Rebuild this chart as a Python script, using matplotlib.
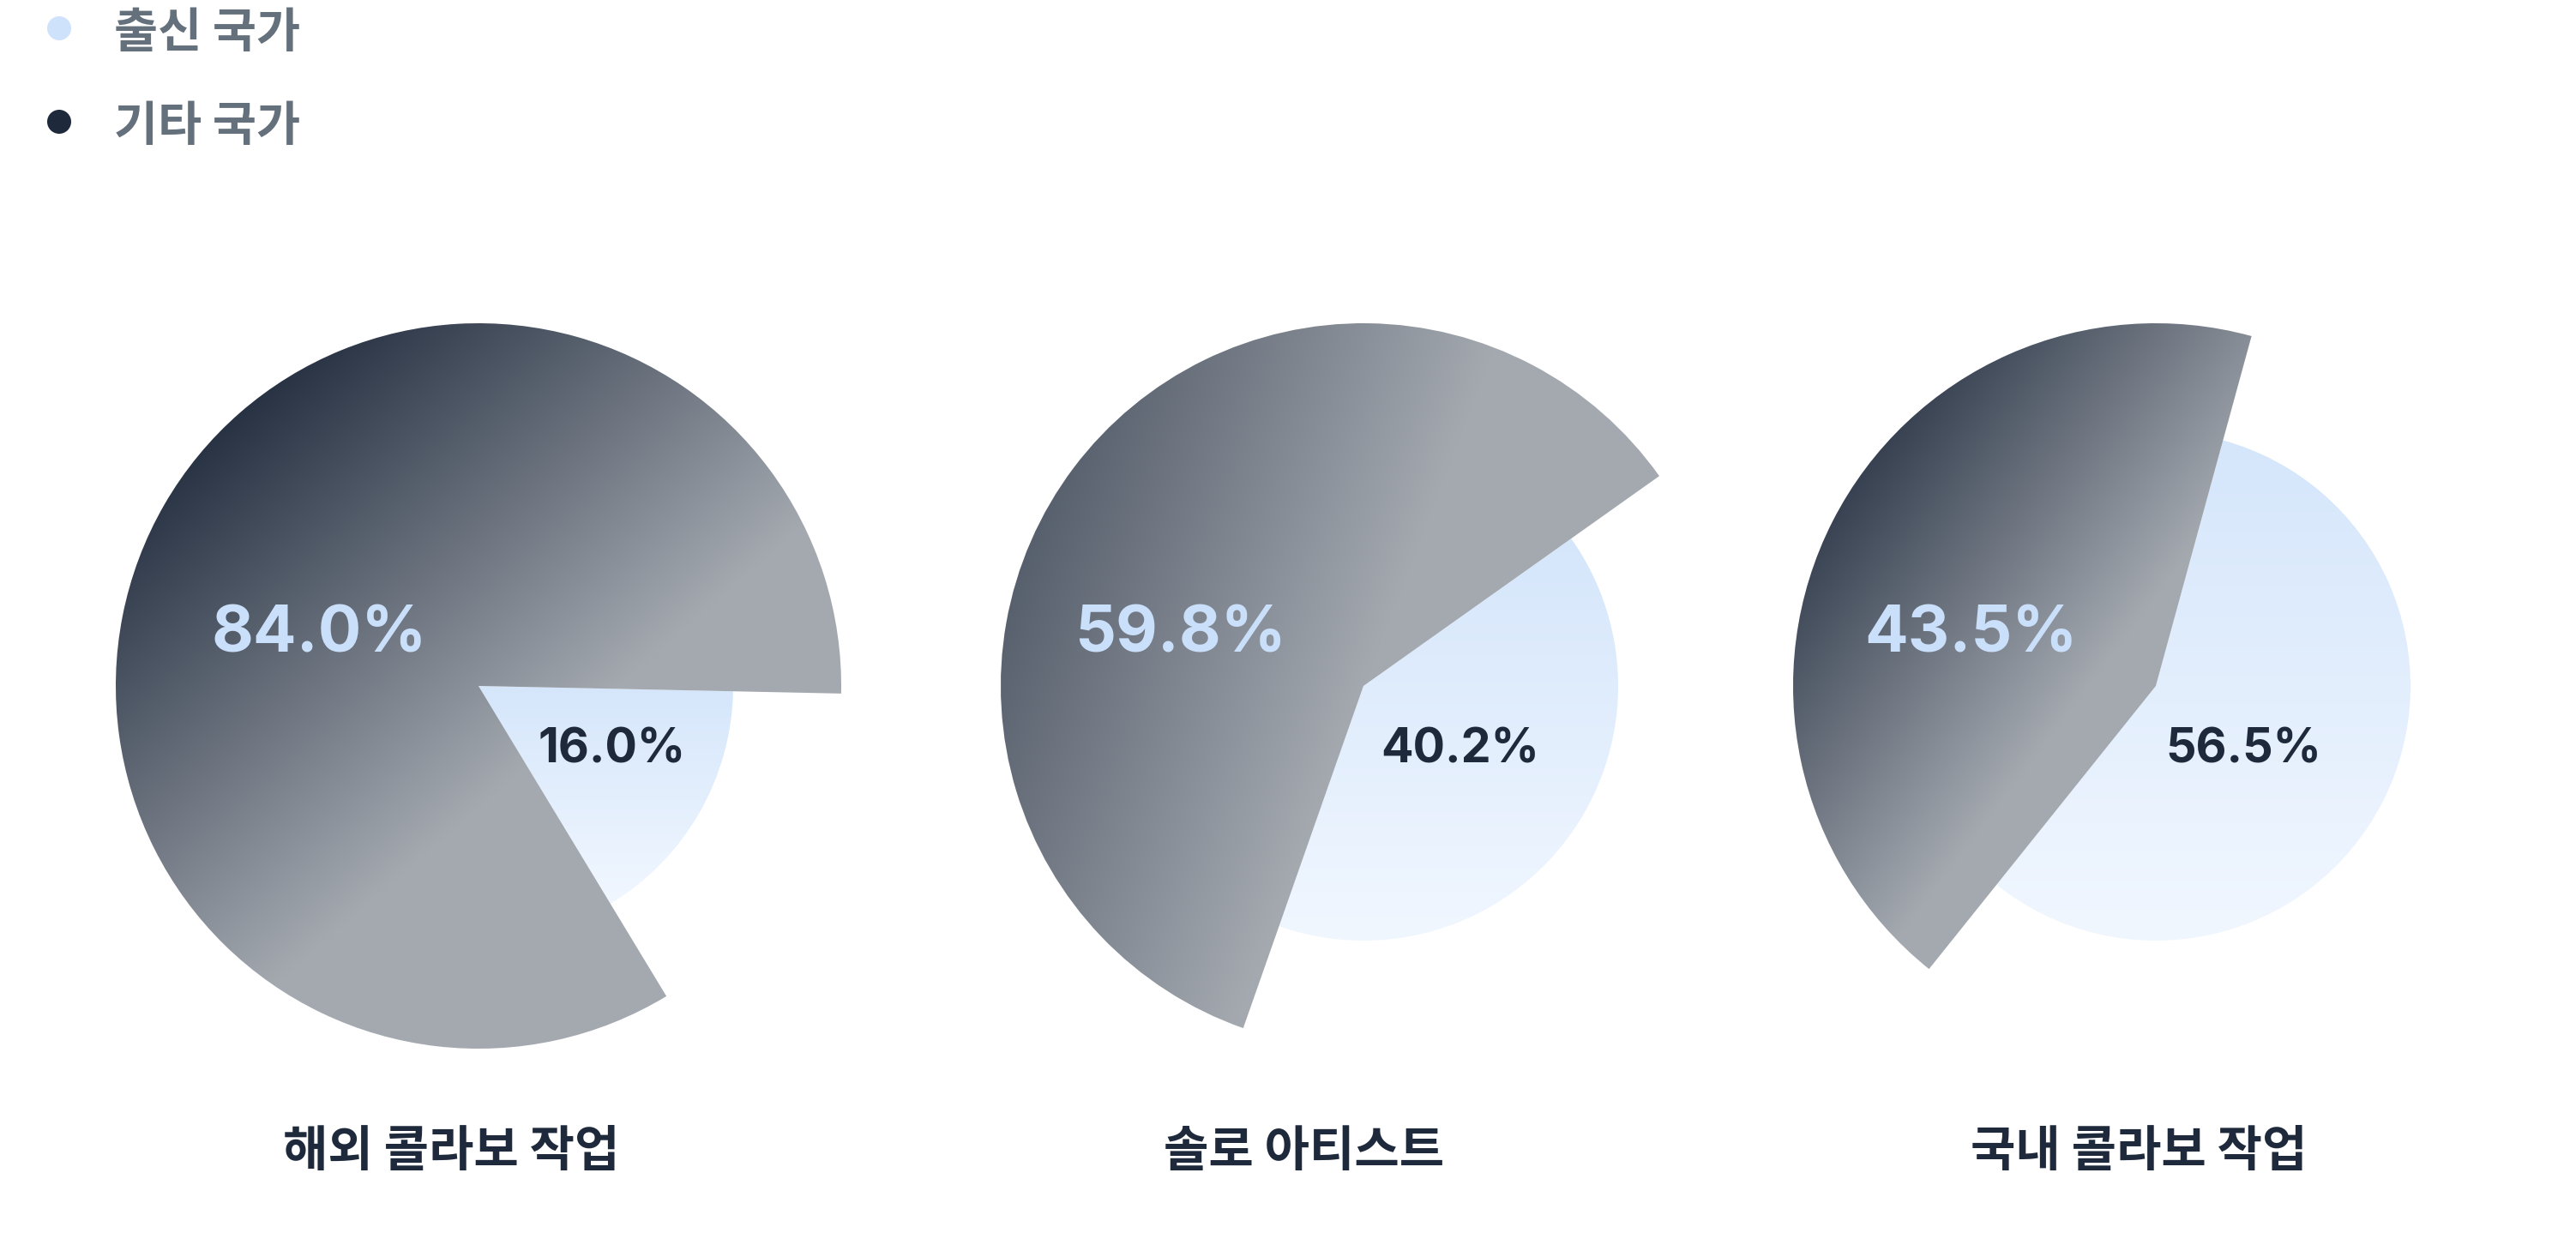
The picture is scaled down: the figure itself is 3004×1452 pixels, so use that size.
import numpy as np
import matplotlib.pyplot as plt
from matplotlib.colors import to_rgb
from matplotlib.patches import Circle

# data
categories = ['해외 콜라보 작업', '솔로 아티스트', '국내 콜라보 작업']
series_names = ['출신 국가', '기타 국가']
home_pct = [16.0, 40.2, 56.5]     # 출신 국가
other_pct = [84.0, 59.8, 43.5]    # 기타 국가

W, H = 3004, 1452
DARK = '#1e293b'
GRAY = '#a4a9b0'
LIGHT_TOP = '#d5e6fb'
LIGHT_BOTTOM = '#f1f7ff'
LABEL_LIGHT = '#c9dffa'
LEGEND_TXT = '#64707c'

# layout, in pixels measured from the top
pie_x = [558, 1590, 2514]
pie_y = 800
r_other, r_home = 423, 297
mid_angle = [150, 143, 153]          # direction the dark slice points to
grad_angle = [-49, -21, -37]         # direction of the dark gradient
grad_span = [(-1.1, 0.25), (-1.75, 0.0), (-1.2, -0.15)]
title_x = [526, 1521, 2494]
other_lbl_dx = [-186, -214, -216]
home_lbl_dx = [156, 113, 102]

plt.rcParams['font.family'] = ['Noto Sans CJK KR', 'DejaVu Sans']

fig = plt.figure(figsize=(W / 100, H / 100), dpi=100)
ax = fig.add_axes([0, 0, 1, 1])


def fill_gradient(wedge, func, zorder):
    x0, y0, x1, y1 = wedge.get_path().get_extents().extents
    X, Y = np.meshgrid(np.linspace(x0, x1, 400), np.linspace(y0, y1, 400))
    img = func(X, Y, (x0, y0, x1, y1))
    im = ax.imshow(img, extent=(x0, x1, y0, y1), origin='lower',
                   interpolation='bilinear', zorder=zorder)
    im.set_clip_path(wedge)


def dark_fill(cx, cy, ang, span):
    c0, c1 = np.array(to_rgb(DARK)), np.array(to_rgb(GRAY))
    ux, uy = np.cos(np.radians(ang)), np.sin(np.radians(ang))

    def f(X, Y, ext):
        p = ((X - cx) * ux + (Y - cy) * uy) / r_other
        t = np.clip((p - span[0]) / (span[1] - span[0]), 0, 1)[..., None]
        return c0 + t * (c1 - c0)
    return f


def light_fill(X, Y, ext):
    c0, c1 = np.array(to_rgb(LIGHT_TOP)), np.array(to_rgb(LIGHT_BOTTOM))
    t = ((ext[3] - Y) / (ext[3] - ext[1]))[..., None]
    return c0 + t * (c1 - c0)


for i in range(len(categories)):
    cx, cy = pie_x[i], H - pie_y
    start = mid_angle[i] - other_pct[i] * 1.8
    wedges, _ = ax.pie([other_pct[i], home_pct[i]], startangle=start,
                       radius=r_other, center=(cx, cy), counterclock=True,
                       wedgeprops=dict(linewidth=0))
    w_other, w_home = wedges
    w_home.set_radius(r_home)
    for w in wedges:
        w.set_facecolor('none')
        w.set_edgecolor('none')
    fill_gradient(w_home, light_fill, 1)
    fill_gradient(w_other, dark_fill(cx, cy, grad_angle[i], grad_span[i]), 2)

    ax.text(cx + other_lbl_dx[i], H - 741, f'{other_pct[i]:.1f}%',
            ha='center', va='center', fontsize=54, fontweight='bold',
            family=['Inter', 'DejaVu Sans'], color=LABEL_LIGHT, zorder=5)
    ax.text(cx + home_lbl_dx[i], H - 874, f'{home_pct[i]:.1f}%',
            ha='center', va='center', fontsize=40, fontweight='bold',
            family=['Inter', 'DejaVu Sans'], color=DARK, zorder=5)
    ax.text(title_x[i], H - 1343, categories[i], ha='center', va='center',
            fontsize=41, fontweight='bold', color=DARK)

# legend
for name, col, y in zip(series_names, ['#cfe2fb', DARK], [33, 142]):
    ax.add_patch(Circle((69, H - y), 14, color=col, linewidth=0))
    ax.text(133, H - y - 6, name, ha='left', va='center', fontsize=40,
            fontweight='bold', color=LEGEND_TXT)

ax.set_xlim(0, W)
ax.set_ylim(0, H)
ax.set_aspect('equal')
ax.axis('off')

fig.savefig('out.png', dpi=100)
